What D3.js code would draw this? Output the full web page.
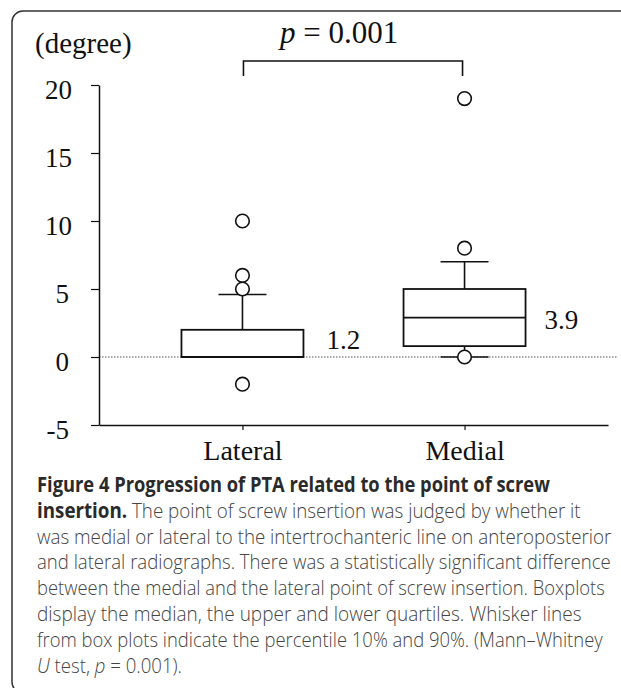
<!DOCTYPE html>
<html>
<head>
<meta charset="utf-8">
<script src="https://cdn.jsdelivr.net/npm/d3@7"></script>
<style>
  body { margin: 0; background: #fff; }
  svg { display: block; }
</style>
</head>
<body>
<div id="chart"></div>
<script>
// Datos del gráfico
const categorias = ['Lateral', 'Medial'];
const q1 = [0, 0.8];
const mediana = [0, 2.9];
const q3 = [2.0, 5.0];
const bigoteInf = [0, 0];
const bigoteSup = [4.6, 7.0];
const atipicos = [[10, 6, 5, -2], [19, 8, 0]];
const etiquetasMedia = ['1.2', '3.9'];
const ticksY = [-5, 0, 5, 10, 15, 20];

// Leyenda (una linea por fila, con su ancho en la referencia)
const leyenda = [
  [{ t: 'Figure 4 Progression of PTA related to the point of screw', b: true }],
  [{ t: 'insertion.', b: true }, { t: ' The point of screw insertion was judged by whether it' }],
  [{ t: 'was medial or lateral to the intertrochanteric line on anteroposterior' }],
  [{ t: 'and lateral radiographs. There was a statistically significant difference' }],
  [{ t: 'between the medial and the lateral point of screw insertion. Boxplots' }],
  [{ t: 'display the median, the upper and lower quartiles. Whisker lines' }],
  [{ t: 'from box plots indicate the percentile 10% and 90%. (Mann\u2013Whitney' }],
  [{ t: 'U', i: true }, { t: ' test, ' }, { t: 'p', i: true }, { t: ' = 0.001).' }]
];
const anchosLeyenda = [513, 544, 575, 574, 568, 545, 566, null];

const width = 621;
const height = 688;

const svg = d3.select('#chart').append('svg')
  .attr('width', width)
  .attr('height', height);

// Marco redondeado
svg.append('rect')
  .attr('x', 12).attr('y', 11)
  .attr('width', 700).attr('height', 682)
  .attr('rx', 11)
  .attr('fill', 'none')
  .attr('stroke', '#333')
  .attr('stroke-width', 1.5);

// Escalas
const y = d3.scaleLinear().domain([-5, 20]).range([425, 85]);
const x = d3.scalePoint().domain(categorias).range([99, 608]).padding(0.646);

const serif = '"Liberation Serif", "Times New Roman", serif';
const anchoCaja = 122;
const anchoTope = 48;

// Linea punteada en cero
svg.append('line')
  .attr('x1', 99).attr('x2', 618)
  .attr('y1', y(0)).attr('y2', y(0))
  .attr('stroke', '#555')
  .attr('stroke-width', 1.2)
  .attr('stroke-dasharray', '1.5,1.5');

// Eje Y
const ejeY = svg.append('g')
  .attr('transform', 'translate(99,0)')
  .call(d3.axisLeft(y).tickValues(ticksY).tickSize(8).tickSizeOuter(0).tickFormat(d => String(d)));
ejeY.select('.domain').attr('stroke', '#111').attr('stroke-width', 1.5);
ejeY.selectAll('.tick line').attr('stroke', '#111').attr('stroke-width', 1.2);
ejeY.selectAll('.tick text')
  .attr('x', d => d >= 10 ? -27 : -30)
  .attr('dy', '0.38em')
  .attr('y', 3)
  .attr('font-family', serif)
  .attr('font-size', 27)
  .attr('fill', '#111');

// Eje X
const ejeX = svg.append('g')
  .attr('transform', `translate(0,${y(-5)})`)
  .call(d3.axisBottom(x).tickSize(5).tickSizeOuter(0));
ejeX.select('.domain').attr('stroke', '#111').attr('stroke-width', 1.5);
ejeX.selectAll('.tick line').attr('stroke', '#111').attr('stroke-width', 1.2);
ejeX.selectAll('.tick text')
  .attr('y', 0)
  .attr('dy', 35)
  .attr('font-family', serif)
  .attr('font-size', 28)
  .attr('fill', '#111');

// Cajas
const grupos = svg.selectAll('.caja')
  .data(categorias)
  .enter()
  .append('g')
  .attr('class', 'caja');

// Bigotes
grupos.append('line')
  .attr('x1', d => x(d)).attr('x2', d => x(d))
  .attr('y1', (d, i) => y(q3[i])).attr('y2', (d, i) => y(bigoteSup[i]))
  .attr('stroke', '#111').attr('stroke-width', 1.6);
grupos.append('line')
  .attr('x1', d => x(d)).attr('x2', d => x(d))
  .attr('y1', (d, i) => y(q1[i])).attr('y2', (d, i) => y(bigoteInf[i]))
  .attr('stroke', '#111').attr('stroke-width', 1.6);
grupos.append('line')
  .attr('x1', d => x(d) - anchoTope / 2).attr('x2', d => x(d) + anchoTope / 2)
  .attr('y1', (d, i) => y(bigoteSup[i])).attr('y2', (d, i) => y(bigoteSup[i]))
  .attr('stroke', '#111').attr('stroke-width', 1.6);
grupos.append('line')
  .attr('x1', d => x(d) - anchoTope / 2).attr('x2', d => x(d) + anchoTope / 2)
  .attr('y1', (d, i) => y(bigoteInf[i])).attr('y2', (d, i) => y(bigoteInf[i]))
  .attr('stroke', '#111').attr('stroke-width', 1.6);

grupos.append('rect')
  .attr('x', d => x(d) - anchoCaja / 2)
  .attr('y', (d, i) => y(q3[i]))
  .attr('width', anchoCaja)
  .attr('height', (d, i) => y(q1[i]) - y(q3[i]))
  .attr('fill', '#fff')
  .attr('stroke', '#111')
  .attr('stroke-width', 1.8);

grupos.append('line')
  .attr('x1', d => x(d) - anchoCaja / 2).attr('x2', d => x(d) + anchoCaja / 2)
  .attr('y1', (d, i) => y(mediana[i])).attr('y2', (d, i) => y(mediana[i]))
  .attr('stroke', '#111').attr('stroke-width', 1.8);

// Valores atípicos
grupos.each(function (d, i) {
  d3.select(this).selectAll('circle')
    .data(atipicos[i])
    .enter()
    .append('circle')
    .attr('cx', x(d))
    .attr('cy', v => y(v))
    .attr('r', 6.8)
    .attr('fill', '#fff')
    .attr('stroke', '#111')
    .attr('stroke-width', 1.6);
});

// Etiquetas de media
grupos.append('text')
  .attr('x', (d, i) => x(d) + anchoCaja / 2 + (i === 0 ? 23 : 19))
  .attr('y', (d, i) => i === 0 ? 349 : 329)
  .attr('font-family', serif)
  .attr('font-size', 27)
  .attr('fill', '#111')
  .text((d, i) => etiquetasMedia[i]);

// Titulo del eje
svg.append('text')
  .attr('x', 35).attr('y', 53)
  .attr('font-family', serif)
  .attr('font-size', 29)
  .attr('fill', '#111')
  .text('(degree)');

// Corchete de significancia
const xa = x(categorias[0]) + 1;
const xb = x(categorias[1]) - 2;
svg.append('path')
  .attr('d', `M${xa},${y(20.66)}V${y(21.76)}H${xb}V${y(20.66)}`)
  .attr('fill', 'none')
  .attr('stroke', '#111')
  .attr('stroke-width', 1.6);

const pTexto = svg.append('text')
  .attr('x', 280).attr('y', 43)
  .attr('font-family', serif)
  .attr('font-size', 31)
  .attr('fill', '#111');
pTexto.append('tspan').attr('font-style', 'italic').text('p');
pTexto.append('tspan').text(' = 0.001');

// Leyenda de la figura: cada linea se escala en horizontal a su ancho
const sans = '"Open Sans", "Noto Sans", sans-serif';
const lineas = svg.selectAll('.linea')
  .data(leyenda)
  .enter()
  .append('text')
  .attr('class', 'linea')
  .attr('x', 0)
  .attr('y', 0)
  .attr('font-family', sans)
  .attr('font-size', 20.5)
  .attr('fill', '#3a3a3a');

lineas.each(function (partes) {
  const t = d3.select(this);
  partes.forEach(p => {
    t.append('tspan')
      .attr('font-weight', p.b ? 700 : 300)
      .attr('font-style', p.i ? 'italic' : 'normal')
      .attr('fill', p.b ? '#2a2a2a' : '#444')
      .text(p.t);
  });
});

const naturales = lineas.nodes().map(n => n.getComputedTextLength());
const razones = anchosLeyenda.map((a, i) => a ? a / naturales[i] : null);
const razonMedia = d3.mean(razones.filter(r => r));
lineas.attr('transform', (d, i) =>
  `translate(37,${492 + i * 25.8}) scale(${razones[i] || razonMedia},1)`);
</script>
</body>
</html>
